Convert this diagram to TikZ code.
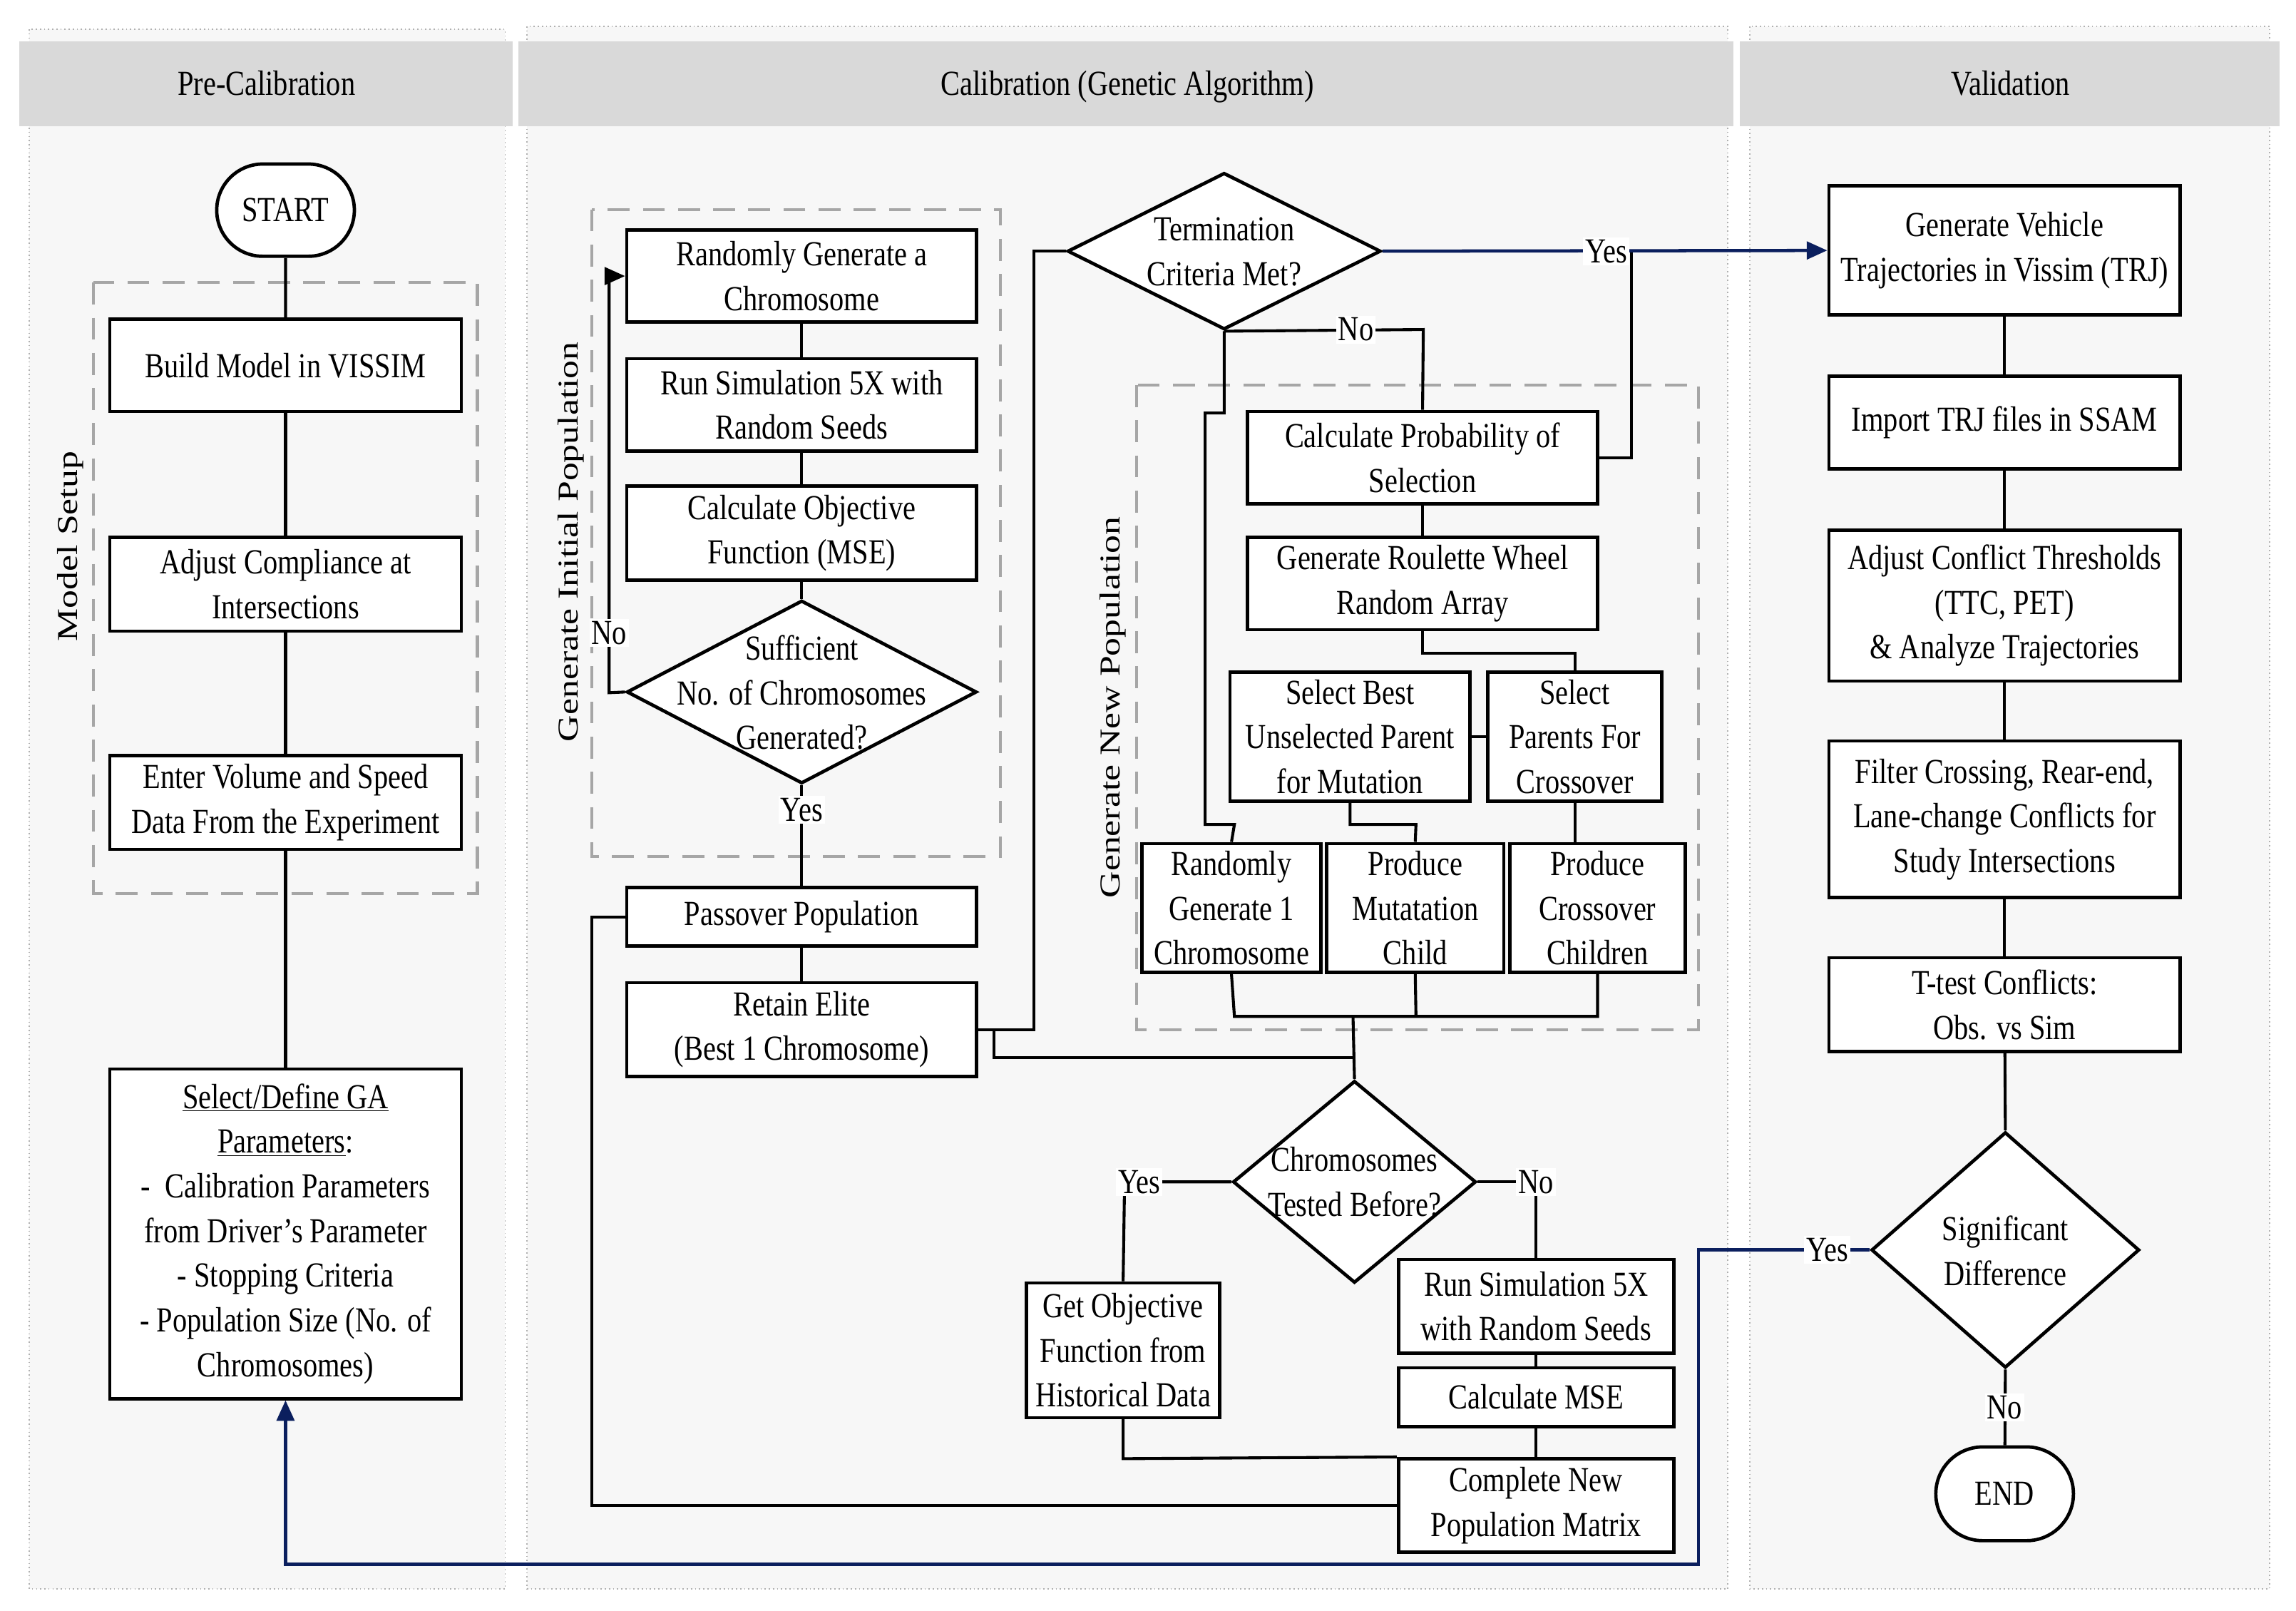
\documentclass[tikz,border=0pt]{standalone}
\usepackage{fontspec}
\setmainfont{Liberation Serif}[FakeStretch=0.82]
\newfontfamily\rotfam{Liberation Serif}[FakeStretch=1.28]
\usetikzlibrary{shapes.geometric,shapes.misc,arrows.meta}
\definecolor{panelgray}{HTML}{F7F7F7}
\definecolor{headgray}{HTML}{D9D9D9}
\definecolor{dashgray}{HTML}{A6A6A6}
\definecolor{dotgray}{HTML}{B0B0B0}
\definecolor{navy}{HTML}{0B1F5E}
\newcommand\myfnt{\fontsize{24}{30.5}\selectfont}
\newcommand\myrot{\rotfam\fontsize{19.7}{24}\selectfont}
\begin{document}
\begin{tikzpicture}[x=1pt,y=-1pt,
  box/.style={draw, line width=2.3pt, fill=white, inner sep=1pt, align=center, font=\myfnt},
  dia/.style={diamond, draw, line width=2.3pt, fill=white, inner sep=0pt},
  diatext/.style={align=center, font=\myfnt, inner sep=0pt},
  term/.style={rounded rectangle, draw, line width=2.3pt, fill=white, inner sep=0pt, font=\myfnt},
  con/.style={line width=2pt, black},
  bcon/.style={line width=2.2pt, navy},
  tip/.style={-{Triangle[length=14pt,width=12pt]}},
  lab/.style={fill=white, inner sep=1.5pt, font=\myfnt},
  grp/.style={draw=dashgray, line width=2pt, dash pattern=on 15pt off 9pt},
  panel/.style={draw=dotgray, dotted, line width=0.8pt, fill=panelgray},
  head/.style={fill=headgray, draw=none},
  headtext/.style={font=\myfnt, inner sep=0pt, anchor=base},
  rotlab/.style={rotate=90, font=\myrot, inner sep=0pt}
]
\useasboundingbox (0,0) rectangle (1568,1100);
\fill[white] (0,0) rectangle (1568,1100);

% panels
\path[panel] (20,20) rectangle (345,1085);
\path[panel] (360,18) rectangle (1180,1085);
\path[panel] (1195,18) rectangle (1550,1085);
\path[head] (13,28) rectangle (350,86);
\path[head] (354,28) rectangle (1184,86);
\path[head] (1188,28) rectangle (1557,86);
\node[headtext] (h1) at (182,65) {Pre-Calibration};
\node[headtext] (h2) at (770,65) {Calibration (Genetic Algorithm)};
\node[headtext] (h3) at (1373,65) {Validation};

% dashed groups
\draw[grp] (64,193) rectangle (326,610);
\draw[grp] (404,143) rectangle (683,585);
\draw[grp] (776,263) rectangle (1160,703);
\node[rotlab] (lms) at (48,373) {Model Setup};
\node[rotlab] (lgip) at (390,370) {Generate Initial Population};
\node[rotlab] (lgnp) at (760,483) {Generate New Population};

% Pre-Calibration nodes
\node[term, minimum width=94pt, minimum height=63pt] (start) at (195,143.5) {START};
\node[box, minimum width=240pt, minimum height=63pt] (build) at (195,249.5) {Build Model in VISSIM};
\node[box, minimum width=240pt, minimum height=64pt] (adjust) at (195,399) {Adjust Compliance at\\Intersections};
\node[box, minimum width=240pt, minimum height=64pt] (enter) at (195,548) {Enter Volume and Speed\\Data From the Experiment};
\node[box, minimum width=240pt, minimum height=225pt] (sel) at (195,842.5) {\underline{Select/Define GA}\\\underline{Parameters}:\\-~~Calibration Parameters\\from Driver’s Parameter\\- Stopping Criteria\\- Population Size (No. of\\Chromosomes)};

% Calibration nodes
\node[box, minimum width=239pt, minimum height=63pt] (r1) at (547.5,188.5) {Randomly Generate a\\Chromosome};
\node[box, minimum width=239pt, minimum height=63pt] (r2) at (547.5,276.5) {Run Simulation 5X with\\Random Seeds};
\node[box, minimum width=239pt, minimum height=64pt] (r3) at (547.5,364) {Calculate Objective\\Function (MSE)};
\node[dia, minimum width=239pt, minimum height=125pt] (d1) at (547.5,472.5) {};
\node[diatext] (d1t) at (547.5,473) {Sufficient\\No. of Chromosomes\\Generated?};
\node[box, minimum width=239pt, minimum height=40pt] (pass) at (547.5,626) {Passover Population};
\node[box, minimum width=239pt, minimum height=64pt] (elite) at (547.5,703) {Retain Elite\\(Best 1 Chromosome)};

\node[dia, minimum width=214pt, minimum height=107pt] (tm) at (836,171.5) {};
\node[diatext] (tmt) at (836,172) {Termination\\Criteria Met?};
\node[box, minimum width=239pt, minimum height=63pt] (prob) at (971.5,312.5) {Calculate Probability of\\Selection};
\node[box, minimum width=239pt, minimum height=63pt] (roul) at (971.5,398.5) {Generate Roulette Wheel\\Random Array};
\node[box, minimum width=164pt, minimum height=88pt] (selb) at (922,503) {Select Best\\Unselected Parent\\for Mutation};
\node[box, minimum width=119pt, minimum height=88pt] (selp) at (1075.5,503) {Select\\Parents For\\Crossover};
\node[box, minimum width=122pt, minimum height=88pt] (rg1) at (841,620) {Randomly\\Generate 1\\Chromosome};
\node[box, minimum width=121pt, minimum height=88pt] (mut) at (966.5,620) {Produce\\Mutatation\\Child};
\node[box, minimum width=120pt, minimum height=88pt] (cross) at (1091,620) {Produce\\Crossover\\Children};

\node[dia, minimum width=166pt, minimum height=138pt] (ct) at (925,807) {};
\node[diatext] (ctt) at (925,807) {Chromosomes\\Tested Before?};
\node[box, minimum width=132pt, minimum height=92pt] (gobj) at (767,922) {Get Objective\\Function from\\Historical Data};
\node[box, minimum width=188pt, minimum height=64pt] (run2) at (1049,892) {Run Simulation 5X\\with Random Seeds};
\node[box, minimum width=188pt, minimum height=40pt] (mse) at (1049,954) {Calculate MSE};
\node[box, minimum width=188pt, minimum height=64pt] (comp) at (1049,1028) {Complete New\\Population Matrix};

% Validation nodes
\node[box, minimum width=240pt, minimum height=88pt] (gen) at (1369,171) {Generate Vehicle\\Trajectories in Vissim (TRJ)};
\node[box, minimum width=240pt, minimum height=63pt] (imp) at (1369,288.5) {Import TRJ files in SSAM};
\node[box, minimum width=240pt, minimum height=103pt] (adj) at (1369,413.5) {Adjust Conflict Thresholds\\(TTC, PET)\\\& Analyze Trajectories};
\node[box, minimum width=240pt, minimum height=107pt] (filt) at (1369,559.5) {Filter Crossing, Rear-end,\\Lane-change Conflicts for\\Study Intersections};
\node[box, minimum width=240pt, minimum height=64pt] (tt) at (1369,686) {T-test Conflicts:\\Obs. vs Sim};
\node[dia, minimum width=183pt, minimum height=161pt] (sig) at (1369.5,853.5) {};
\node[diatext] (sigt) at (1369.5,854) {Significant\\Difference};
\node[term, minimum width=94pt, minimum height=64pt] (end) at (1369,1020) {END};

% coordinates
\coordinate (cNo1) at (416,473);
\coordinate (cNo2) at (416,188.5);
\coordinate (cE1) at (706,703);
\coordinate (cE2) at (706,171.5);
\coordinate (cE3) at (679,703);
\coordinate (cE4) at (679,722);
\coordinate (cJ1) at (924,722);
\coordinate (cJ0) at (924,694);
\coordinate (cB1) at (843,694);
\coordinate (cB2) at (967,694);
\coordinate (cB3) at (1091,694);
\coordinate (cP1) at (1114,312.5);
\coordinate (cP2) at (1114,171.5);
\coordinate (cT1) at (972,225);
\coordinate (cT2) at (836,282);
\coordinate (cT3) at (823,282);
\coordinate (cT4) at (823,563);
\coordinate (cT5) at (843,563);
\coordinate (cR1) at (971.5,446);
\coordinate (cR2) at (1075.5,446);
\coordinate (cS1) at (922,563);
\coordinate (cS2) at (967,563);
\coordinate (cY1) at (768,807);
\coordinate (cN1) at (1049,807);
\coordinate (cG1) at (767,996);
\coordinate (cC1) at (404,1028);
\coordinate (cC2) at (404,626);
\coordinate (cV1) at (1160,853.5);
\coordinate (cV2) at (1160,1068);
\coordinate (cV3) at (195,1068);

% Pre-Calibration connectors
\draw[con] (start) -- (build);
\draw[con] (build) -- (adjust);
\draw[con] (adjust) -- (enter);
\draw[con] (enter) -- (sel);

% Initial population connectors
\draw[con] (r1) -- (r2);
\draw[con] (r2) -- (r3);
\draw[con] (r3) -- (d1.north);
\draw[con, tip] (d1.west) -- (cNo1) -- (cNo2) -- (r1.west);
\draw[con] (d1.south) -- (pass);
\draw[con] (pass) -- (elite);
\draw[con] (elite.east) -- (cE1) -- (cE2) -- (tm.west);
\draw[con] (cE3) -- (cE4) -- (cJ1);

% New population connectors
\draw[con] (tm.south) -- (cT1) -- (prob.north);
\draw[con] (tm.south) -- (cT2) -- (cT3) -- (cT4) -- (cT5) -- (rg1.north);
\draw[con] (prob.east) -- (cP1) -- (cP2);
\draw[con] (prob) -- (roul);
\draw[con] (roul.south) -- (cR1) -- (cR2) -- (selp.north);
\draw[con] (selb.east) -- (selp.west);
\draw[con] (selb.south) -- (cS1) -- (cS2) -- (mut.north);
\draw[con] (selp.south) -- (selp.south |- cross.north);
\draw[con] (rg1.south) -- (cB1) -- (cB3) -- (cross.south);
\draw[con] (mut.south) -- (cB2);
\draw[con] (cJ0) -- (ct.north);
\draw[con] (ct.west) -- (cY1) -- (gobj.north);
\draw[con] (ct.east) -- (cN1) -- (run2.north);
\draw[con] (run2) -- (mse);
\draw[con] (mse) -- (comp);
\draw[con] (gobj.south) -- (cG1) -- (comp.north west);
\draw[con] (comp.west) -- (cC1) -- (cC2) -- (pass.west);

% Validation connectors
\draw[con] (gen) -- (imp);
\draw[con] (imp) -- (adj);
\draw[con] (adj) -- (filt);
\draw[con] (filt) -- (tt);
\draw[con] (tt) -- (sig.north);
\draw[con] (sig.south) -- (end);

% blue connectors
\draw[bcon, tip] (tm.east) -- (gen.west);
\draw[bcon, tip] (sig.west) -- (cV1) -- (cV2) -- (cV3) -- (sel.south);

% labels
\node[lab] (lNo1) at (416,432) {No};
\node[lab] (lYes1) at (547.5,553) {Yes};
\node[lab] (lYes2) at (1097,171.5) {Yes};
\node[lab] (lNo2) at (926,225) {No};
\node[lab] (lYes3) at (778,807) {Yes};
\node[lab] (lNo3) at (1049,807) {No};
\node[lab] (lYes4) at (1248,853.5) {Yes};
\node[lab] (lNo4) at (1369,961) {No};
\end{tikzpicture}
\end{document}
